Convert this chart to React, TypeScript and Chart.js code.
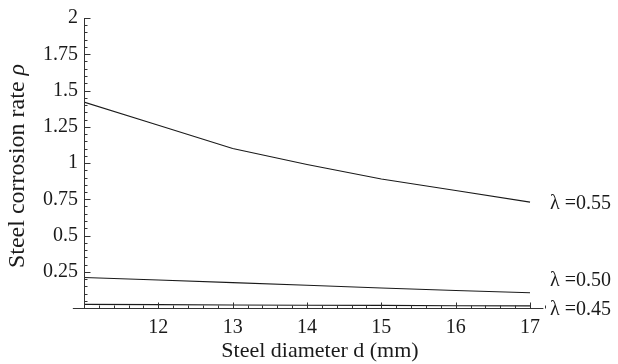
import React, { useEffect, useRef } from "react";
import { Chart, registerables } from "chart.js";

Chart.register(...registerables);

const diameters = [11, 12, 13, 14, 15, 16, 17];
const rate055 = [1.42, 1.26, 1.1, 0.99, 0.89, 0.81, 0.73];
const rate050 = [0.21, 0.193, 0.175, 0.157, 0.138, 0.121, 0.105];
const rate045 = [0.025, 0.023, 0.021, 0.019, 0.018, 0.016, 0.015];
const seriesLabels = ["λ =0.55", "λ =0.50", "λ =0.45"];
const labelAnchors = [0.72, 0.185, -0.015];
const xTickValues = [12, 13, 14, 15, 16, 17];
const yTickValues = [0.25, 0.5, 0.75, 1, 1.25, 1.5, 1.75, 2];
const xTitle = "Steel diameter d (mm)";
const yTitle = "Steel corrosion rate ";
const yTitleSymbol = "ρ";

const FONT = "'Liberation Serif', 'Times New Roman', Tinos, 'DejaVu Serif', 'Noto Serif', serif";
const INK = "#1a1a1a";

const axesPlugin = {
  id: "mathAxes",
  afterDraw(chart: any) {
    const { ctx, scales, chartArea } = chart;
    const xs = scales.x;
    const ys = scales.y;
    const y0 = Math.round(ys.getPixelForValue(0)) + 0.5;
    const x0 = Math.round(xs.getPixelForValue(11)) + 0.5;
    ctx.save();
    ctx.strokeStyle = "#333";
    ctx.lineWidth = 1;
    ctx.beginPath();
    ctx.moveTo(xs.getPixelForValue(10.85), y0);
    ctx.lineTo(chartArea.right, y0);
    ctx.moveTo(x0, y0);
    ctx.lineTo(x0, ys.getPixelForValue(2));
    for (let i = 1; i <= 40; i++) {
      const v = i * 0.05;
      const p = Math.round(ys.getPixelForValue(v)) + 0.5;
      const len = i % 5 === 0 ? 6 : 3;
      ctx.moveTo(x0, p);
      ctx.lineTo(x0 + len, p);
    }
    for (let i = 1; i <= 31; i++) {
      const v = 11 + i * 0.2;
      const p = Math.round(xs.getPixelForValue(v)) + 0.5;
      const len = i % 5 === 0 ? 6 : 3;
      ctx.moveTo(p, y0);
      ctx.lineTo(p, y0 - len);
    }
    ctx.stroke();

    ctx.fillStyle = INK;
    ctx.font = `20px ${FONT}`;
    ctx.textBaseline = "middle";
    ctx.textAlign = "left";
    seriesLabels.forEach((t, i) => {
      ctx.fillText(t, xs.getPixelForValue(17) + 20, ys.getPixelForValue(labelAnchors[i]));
    });

    // x title
    ctx.font = `22px ${FONT}`;
    ctx.textAlign = "center";
    ctx.fillText(xTitle, 320, 351);

    // y title with italic rho
    ctx.textAlign = "left";
    ctx.translate(18, 166);
    ctx.rotate(-Math.PI / 2);
    ctx.font = `24px ${FONT}`;
    const w1 = ctx.measureText(yTitle).width;
    ctx.font = `italic 24px ${FONT}`;
    const w2 = ctx.measureText(yTitleSymbol).width;
    const start = -(w1 + w2) / 2;
    ctx.font = `24px ${FONT}`;
    ctx.fillText(yTitle, start, 0);
    ctx.font = `italic 24px ${FONT}`;
    ctx.fillText(yTitleSymbol, start + w1, 0);
    ctx.restore();
  },
};

export default function App() {
  const ref = useRef<HTMLCanvasElement>(null);
  useEffect(() => {
    if (!ref.current) return;
    const mk = (data: number[]) => ({
      data: diameters.map((d, i) => ({ x: d, y: data[i] })),
      borderColor: INK,
      borderWidth: 1.1,
      pointRadius: 0,
      tension: 0,
      fill: false,
    });
    const chart = new Chart(ref.current, {
      type: "line",
      data: {
        datasets: [mk(rate055), mk(rate050), mk(rate045)],
      },
      options: {
        animation: false,
        responsive: true,
        maintainAspectRatio: false,
        layout: { padding: { top: 18, right: 74.6, left: 0, bottom: 0 } },
        plugins: { legend: { display: false }, tooltip: { enabled: false } },
        scales: {
          x: {
            type: "linear",
            min: 11,
            max: 17.18,
            afterFit: (s: any) => {
              s.height = 56;
            },
            afterBuildTicks: (s: any) => {
              s.ticks = xTickValues.map((v) => ({ value: v }));
            },
            grid: { display: false, drawTicks: false },
            border: { display: false },
            ticks: {
              padding: 8,
              color: INK,
              font: { family: FONT, size: 20 },
              maxRotation: 0,
              autoSkip: false,
            },
          },
          y: {
            type: "linear",
            min: 0,
            max: 2,
            afterFit: (s: any) => {
              s.width = 84;
            },
            afterBuildTicks: (s: any) => {
              s.ticks = yTickValues.map((v) => ({ value: v }));
            },
            grid: { display: false, drawTicks: false },
            border: { display: false },
            ticks: {
              padding: 6,
              color: INK,
              font: { family: FONT, size: 20 },
              callback: (v: any) => String(v),
            },
          },
        },
      },
      plugins: [axesPlugin],
    });
    let alive = true;
    const fonts: any = (document as any).fonts;
    if (fonts && fonts.load) {
      Promise.all([
        fonts.load(`20px 'Liberation Serif'`),
        fonts.load(`italic 20px 'Liberation Serif'`),
      ])
        .then(() => {
          if (alive) chart.update();
        })
        .catch(() => {});
    }
    return () => {
      alive = false;
      chart.destroy();
    };
  }, []);
  return (
    <div style={{ position: "fixed", left: 0, top: 0, width: 618, height: 364 }}>
      <canvas ref={ref} />
    </div>
  );
}
